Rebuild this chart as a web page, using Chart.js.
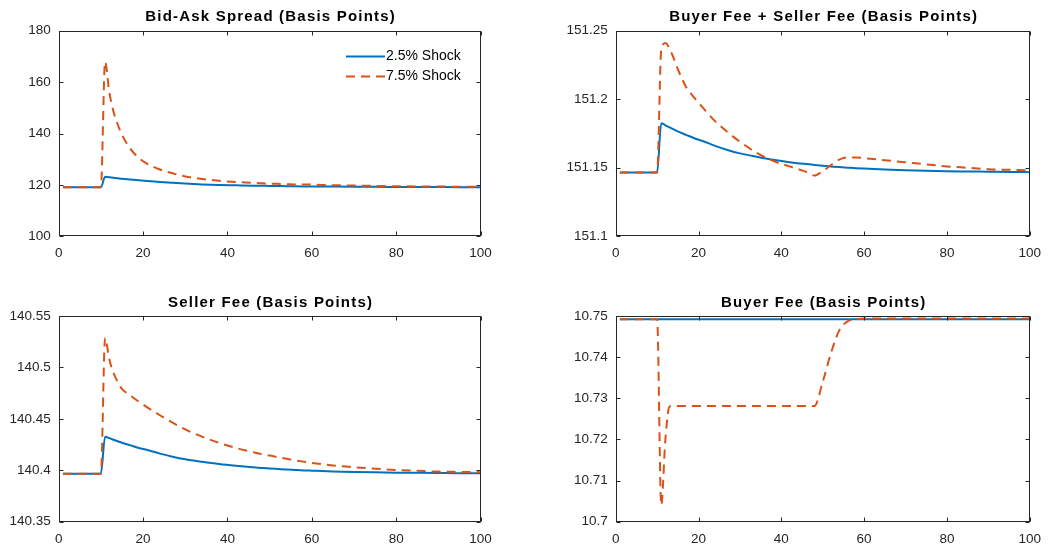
<!DOCTYPE html>
<html>
<head>
<meta charset="utf-8">
<script src="https://cdn.jsdelivr.net/npm/chart.js@4.4.0/dist/chart.umd.min.js"></script>
<style>
  html, body { margin: 0; padding: 0; background: #fff; }
  #wrap { position: relative; width: 1050px; height: 545px; }
  canvas { position: absolute; }
</style>
</head>
<body>
<div id="wrap">
  <canvas id="spreadChart" width="525" height="272" style="left:0;top:0"></canvas>
  <canvas id="totalChart" width="525" height="272" style="left:525px;top:0"></canvas>
  <canvas id="sellerChart" width="525" height="273" style="left:0;top:272px"></canvas>
  <canvas id="buyerChart" width="525" height="273" style="left:525px;top:272px"></canvas>
</div>
<script>
// periods (shared x values)
const periods = [1, 10, 11, 12, 13, 14, 15, 17, 19, 21, 24, 27, 30, 34, 38, 42, 46, 48, 50, 52, 54, 56, 58, 60, 65, 70, 75, 80, 85, 90, 95, 100];

const seriesNames = ['2.5% Shock', '7.5% Shock'];
const xTicks = [0, 20, 40, 60, 80, 100];

// Bid-Ask spread
const spreadLow  = [119.1, 119.1, 123.2, 123.0, 122.8, 122.6, 122.4, 122.1, 121.8, 121.5, 121.1, 120.8, 120.5, 120.2, 120.0, 119.85, 119.7, 119.65, 119.6, 119.55, 119.5, 119.45, 119.42, 119.4, 119.33, 119.28, 119.24, 119.2, 119.17, 119.15, 119.13, 119.12];
const spreadHigh = [119.1, 119.1, 167.9, 156.0, 148.5, 143.5, 139.5, 134.0, 130.5, 128.2, 126.0, 124.5, 123.3, 122.3, 121.6, 121.1, 120.8, 120.6, 120.5, 120.4, 120.3, 120.2, 120.15, 120.1, 119.9, 119.75, 119.6, 119.5, 119.4, 119.35, 119.3, 119.25];
const spreadTicks = [100, 120, 140, 160, 180];

// Buyer fee + seller fee
const totalLow  = [151.1465, 151.1465, 151.1825, 151.181, 151.1795, 151.178, 151.1765, 151.174, 151.1715, 151.1695, 151.166, 151.163, 151.1605, 151.158, 151.1558, 151.1541, 151.1527, 151.1521, 151.1515, 151.151, 151.1505, 151.1501, 151.1497, 151.1494, 151.1487, 151.1482, 151.1478, 151.1475, 151.1473, 151.1471, 151.1469, 151.1468];
const totalHigh = [151.1465, 151.1465, 151.236, 151.241, 151.237, 151.230, 151.222, 151.209, 151.201, 151.194, 151.184, 151.176, 151.169, 151.161, 151.155, 151.151, 151.147, 151.1443, 151.1475, 151.152, 151.156, 151.1575, 151.1575, 151.157, 151.1555, 151.154, 151.1525, 151.151, 151.150, 151.149, 151.1485, 151.148];
const totalTicks = [151.1, 151.15, 151.2, 151.25];

// Seller fee
const sellerLow  = [140.3967, 140.3967, 140.4327, 140.4312, 140.4297, 140.4282, 140.4267, 140.4242, 140.4217, 140.4197, 140.4162, 140.4132, 140.4107, 140.4082, 140.406, 140.4043, 140.4029, 140.4023, 140.4017, 140.4012, 140.4007, 140.4003, 140.3999, 140.3996, 140.3989, 140.3984, 140.398, 140.3977, 140.3975, 140.3973, 140.3971, 140.397];
const sellerHigh = [140.3967, 140.3967, 140.5287, 140.5077, 140.4947, 140.4857, 140.4792, 140.4727, 140.4667, 140.4612, 140.4535, 140.4463, 140.4397, 140.4327, 140.4267, 140.4217, 140.4177, 140.4157, 140.4143, 140.4127, 140.4112, 140.4097, 140.4084, 140.4072, 140.4047, 140.403, 140.4015, 140.4003, 140.3995, 140.3987, 140.3984, 140.3982];
const sellerTicks = [140.35, 140.4, 140.45, 140.5, 140.55];

// Buyer fee
const buyerLow  = [10.7492, 10.7492, 10.7492, 10.7492, 10.7492, 10.7492, 10.7492, 10.7492, 10.7492, 10.7492, 10.7492, 10.7492, 10.7492, 10.7492, 10.7492, 10.7492, 10.7492, 10.7492, 10.7492, 10.7492, 10.7492, 10.7492, 10.7492, 10.7492, 10.7492, 10.7492, 10.7492, 10.7492, 10.7492, 10.7492, 10.7492, 10.7492];
const buyerHigh = [10.7492, 10.7492, 10.704, 10.720, 10.728, 10.7281, 10.7281, 10.7281, 10.7281, 10.7281, 10.7281, 10.7281, 10.7281, 10.7281, 10.7281, 10.7281, 10.7281, 10.7281, 10.734, 10.741, 10.7465, 10.7487, 10.7492, 10.7494, 10.7494, 10.7494, 10.7494, 10.7494, 10.7494, 10.7494, 10.7494, 10.7494];
const buyerTicks = [10.7, 10.71, 10.72, 10.73, 10.74, 10.75];

const BLUE = '#0072BD';
const RED = '#D95319';
const AXIS = '#262626';
const FONT = '"Liberation Sans", Arial, Helvetica, sans-serif';

// box + inward tick marks + title, MATLAB style
const boxPlugin = {
  id: 'box',
  afterDraw(chart) {
    const { ctx, chartArea: a, scales } = chart;
    const L = Math.round(a.left) + 0.5, R = Math.round(a.right) - 0.5;
    const T = Math.round(a.top) + 0.5, B = Math.round(a.bottom) - 0.5;
    ctx.save();
    ctx.strokeStyle = AXIS;
    ctx.lineWidth = 1;
    ctx.strokeRect(L, T, R - L, B - T);
    ctx.beginPath();
    scales.x.ticks.forEach(t => {
      const px = Math.round(scales.x.getPixelForValue(t.value)) + 0.5;
      ctx.moveTo(px, B); ctx.lineTo(px, B - 4);
      ctx.moveTo(px, T); ctx.lineTo(px, T + 4);
    });
    scales.y.ticks.forEach(t => {
      const py = Math.round(scales.y.getPixelForValue(t.value)) + 0.5;
      ctx.moveTo(L, py); ctx.lineTo(L + 4, py);
      ctx.moveTo(R, py); ctx.lineTo(R - 4, py);
    });
    ctx.stroke();
    // title
    const title = chart.options.plugins.panelTitle;
    ctx.fillStyle = '#000';
    ctx.font = 'bold 15px ' + FONT;
    ctx.letterSpacing = '1.2px';
    ctx.textAlign = 'center';
    ctx.textBaseline = 'middle';
    ctx.fillText(title, (a.left + a.right) / 2 + 1, a.top - 13.5);
    ctx.restore();
  }
};

// legend inside first panel
const legendPlugin = {
  id: 'innerLegend',
  afterDraw(chart) {
    if (!chart.options.plugins.showLegend) return;
    const { ctx } = chart;
    const rows = [
      { y: 56.5, color: BLUE, dash: [] },
      { y: 76.5, color: RED, dash: [9, 6] }
    ];
    ctx.save();
    rows.forEach((r, i) => {
      ctx.strokeStyle = r.color;
      ctx.lineWidth = 2;
      ctx.setLineDash(r.dash);
      ctx.beginPath();
      ctx.moveTo(346, r.y); ctx.lineTo(385, r.y);
      ctx.stroke();
      ctx.setLineDash([]);
      ctx.fillStyle = '#000';
      ctx.font = '14px ' + FONT;
      ctx.textAlign = 'left';
      ctx.textBaseline = 'middle';
      ctx.fillText(seriesNames[i], 386, r.y);
    });
    ctx.restore();
  }
};

function toPoints(ys) {
  return periods.map((x, i) => ({ x: x, y: ys[i] }));
}

function makePanel(id, title, low, high, yTicks, area, showLegend) {
  const canvas = document.getElementById(id);
  const w = canvas.width, h = canvas.height;
  return new Chart(canvas, {
    type: 'line',
    data: {
      datasets: [
        { label: seriesNames[0], data: toPoints(low), borderColor: BLUE, borderWidth: 2, pointRadius: 0,
          cubicInterpolationMode: 'monotone', order: 1 },
        { label: seriesNames[1], data: toPoints(high), borderColor: RED, borderWidth: 2, borderDash: [9, 6], pointRadius: 0,
          cubicInterpolationMode: 'monotone', order: 0 }
      ]
    },
    options: {
      responsive: false,
      animation: false,
      layout: { padding: { left: 0, top: area.top, right: w - area.right, bottom: 0 } },
      plugins: {
        legend: { display: false },
        tooltip: { enabled: false },
        panelTitle: title,
        showLegend: showLegend
      },
      scales: {
        x: {
          type: 'linear',
          min: 0, max: 100,
          grid: { display: false, drawTicks: false },
          border: { display: false },
          afterBuildTicks: s => { s.ticks = xTicks.map(v => ({ value: v })); },
          afterFit: s => { s.height = h - area.bottom; },
          ticks: { color: AXIS, font: { family: FONT, size: 13.5 }, padding: 9, maxRotation: 0, autoSkip: false,
                   callback: v => String(v) }
        },
        y: {
          min: yTicks[0], max: yTicks[yTicks.length - 1],
          grid: { display: false, drawTicks: false },
          border: { display: false },
          afterBuildTicks: s => { s.ticks = yTicks.map(v => ({ value: v })); },
          afterFit: s => { s.width = area.left; },
          ticks: { color: AXIS, font: { family: FONT, size: 13.5 }, padding: 8, autoSkip: false,
                   callback: v => String(+v.toFixed(6)) }
        }
      }
    },
    plugins: [boxPlugin, legendPlugin]
  });
}

makePanel('spreadChart', 'Bid-Ask Spread (Basis Points)', spreadLow, spreadHigh, spreadTicks,
  { left: 58.7, top: 30.7, right: 480.5, bottom: 236.3 }, true);
makePanel('totalChart', 'Buyer Fee + Seller Fee (Basis Points)', totalLow, totalHigh, totalTicks,
  { left: 90.7, top: 30.7, right: 512, bottom: 236.3 }, false);
makePanel('sellerChart', 'Seller Fee (Basis Points)', sellerLow, sellerHigh, sellerTicks,
  { left: 58.7, top: 44, right: 480.5, bottom: 249.7 }, false);
makePanel('buyerChart', 'Buyer Fee (Basis Points)', buyerLow, buyerHigh, buyerTicks,
  { left: 90.7, top: 44, right: 512, bottom: 249.7 }, false);
</script>
</body>
</html>
